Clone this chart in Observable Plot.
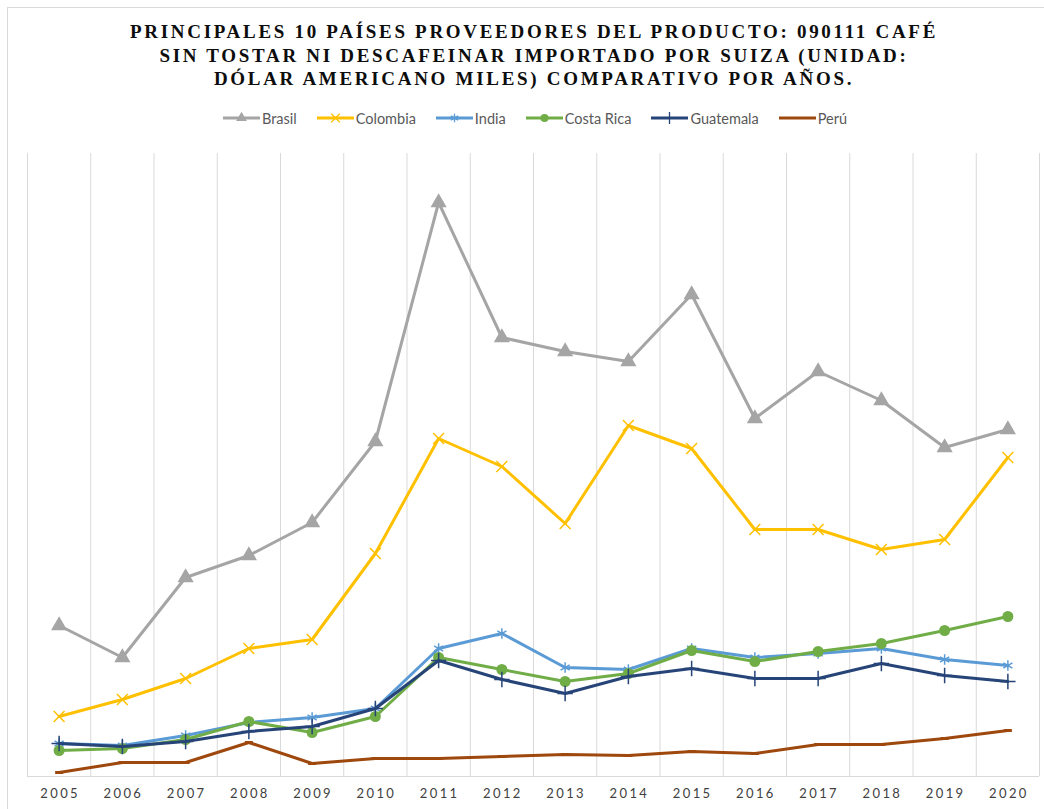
<!DOCTYPE html>
<html>
<head>
<meta charset="utf-8">
<script src="https://cdn.jsdelivr.net/npm/d3@7"></script>
<script src="https://cdn.jsdelivr.net/npm/@observablehq/plot@0.6"></script>
<style>
  html, body { margin: 0; padding: 0; background: #fff; }
  #wrap { position: relative; width: 1044px; height: 809px; overflow: hidden; }
  #frame { position: absolute; left: 7px; top: 7px; width: 1040px; height: 820px; border: 1px solid #d9d9d9; box-sizing: border-box; }
  #title { position: absolute; left: 0; top: 20px; width: 1068px; text-align: center;
    font-family: "Liberation Serif", "Times New Roman", serif; font-weight: bold; font-size: 19px;
    letter-spacing: 2.7px; line-height: 23.5px; color: #0d0d0d; }
  #legend { position: absolute; left: 0; top: 109px; width: 1070px; height: 18px; display: flex; justify-content: center; gap: 20px;
    font-family: Lato, "Liberation Sans", Arial, sans-serif; font-size: 14.5px; color: #595959; }
  #legend .item { display: flex; align-items: center; gap: 2px; }
  #chart { position: absolute; left: 0; top: 140px; }
  #chart svg g[aria-label="x-axis tick label"] text { letter-spacing: 2.4px; }
</style>
</head>
<body>
<div id="wrap">
  <div id="frame"></div>
  <div id="title">PRINCIPALES 10 PAÍSES PROVEEDORES DEL PRODUCTO: 090111 CAFÉ<br>SIN TOSTAR NI DESCAFEINAR IMPORTADO POR SUIZA (UNIDAD:<br>DÓLAR AMERICANO MILES) COMPARATIVO POR AÑOS.</div>
  <div id="legend"></div>
  <div id="chart"></div>
</div>
<script>
const years = [2005,2006,2007,2008,2009,2010,2011,2012,2013,2014,2015,2016,2017,2018,2019,2020];
const seriesNames = ["Brasil","Colombia","India","Costa Rica","Guatemala","Perú"];
const brasil    = [151000,119000,199000,221000,254000,335000,574000,439000,425000,415000,482000,358000,405000,376000,329000,347000];
const colombia  = [60000,77000,98000,128000,137000,223000,338000,310000,253000,351000,328000,247000,247000,227000,237000,319000];
const india     = [33000,31000,41000,54000,59000,68000,128000,143000,109000,107000,128000,119000,123000,128000,117000,111000];
const costaRica = [26000,28000,37000,55000,44000,60000,119000,107000,95000,103000,126000,115000,125000,133000,146000,160000];
const guatemala = [33000,30000,35000,45000,50000,68000,116000,97000,83000,100000,108000,98000,98000,113000,101000,95000];
const peru      = [4000,14000,14000,34000,13000,18000,18000,20000,22000,21000,25000,23000,32000,32000,38000,46000];
const seriesValues = [brasil, colombia, india, costaRica, guatemala, peru];
const colors = ["#A5A5A5","#FFC000","#5B9BD5","#70AD47","#264478","#9E480E"];

const dashSymbol = { draw(ctx, size) { const w = Math.sqrt(size) * 0.5; ctx.moveTo(-w, 0); ctx.lineTo(w, 0); } };
const markerSpec = [
  {symbol: "triangle", r: 6, fill: true, sw: 0, lr: 4},
  {symbol: "times", r: 5, fill: false, sw: 1.5, lr: 4},
  {symbol: "asterisk", r: 5, fill: false, sw: 1.5, lr: 4},
  {symbol: "circle", r: 5.5, fill: true, sw: 0, lr: 4},
  {symbol: "plus", r: 5, fill: false, sw: 1.5, lr: 4},
  {symbol: dashSymbol, r: 4.5, fill: false, sw: 3, lr: 0}
];
const symbolMap = {triangle: d3.symbolTriangle, times: d3.symbolTimes, asterisk: d3.symbolAsterisk, circle: d3.symbolCircle, plus: d3.symbolPlus};

const data = [];
seriesNames.forEach((name, i) => years.forEach((yr, j) => data.push({country: name, year: yr, value: seriesValues[i][j]})));

const bounds = d3.range(years[0] - 0.5, years[years.length - 1] + 1, 1);

const marks = [
  Plot.ruleX(bounds, {stroke: "#d9d9d9", strokeWidth: 1}),
  Plot.ruleY([0], {stroke: "#d9d9d9", strokeWidth: 1}),
  Plot.axisX({ticks: years, tickSize: 0, tickPadding: 12, label: null, tickFormat: d => String(d), fontSize: 13,
    fill: "#404040", fontFamily: "Lato, Liberation Sans, Arial, sans-serif", dx: 1})
];
seriesNames.forEach((name, i) => {
  const d = data.filter(r => r.country === name);
  marks.push(Plot.line(d, {x: "year", y: "value", stroke: colors[i], strokeWidth: 3, strokeLinejoin: "round", strokeLinecap: "round"}));
  const m = markerSpec[i];
  marks.push(Plot.dot(d, {x: "year", y: "value", symbol: () => m.symbol, r: m.r,
    fill: m.fill ? colors[i] : "none", stroke: m.fill ? "none" : colors[i], strokeWidth: m.sw}));
});

const chart = Plot.plot({
  width: 1044, height: 669,
  marginLeft: 27, marginRight: 5, marginTop: 13, marginBottom: 33,
  x: {type: "linear", domain: [years[0] - 0.5, years[years.length - 1] + 0.5], axis: null},
  y: {domain: [0, 623000], axis: null},
  symbol: {type: "identity"},
  style: {background: "transparent", overflow: "visible"},
  marks
});
document.getElementById("chart").appendChild(chart);

// legend
const legend = d3.select("#legend");
seriesNames.forEach((name, i) => {
  const item = legend.append("div").attr("class", "item");
  const svg = item.append("svg").attr("width", 37).attr("height", 14);
  svg.append("line").attr("x1", 0).attr("x2", 37).attr("y1", 7).attr("y2", 7).attr("stroke", colors[i]).attr("stroke-width", 3);
  const m = markerSpec[i];
  if (m.lr > 0) {
    const sym = d3.symbol(symbolMap[m.symbol], Math.PI * m.lr * m.lr);
    svg.append("path").attr("transform", "translate(18.5,7)").attr("d", sym())
      .attr("fill", m.fill ? colors[i] : "none").attr("stroke", m.fill ? "none" : colors[i]).attr("stroke-width", m.sw ? 1.3 : 0);
  }
  item.append("span").text(name);
});
</script>
</body>
</html>
